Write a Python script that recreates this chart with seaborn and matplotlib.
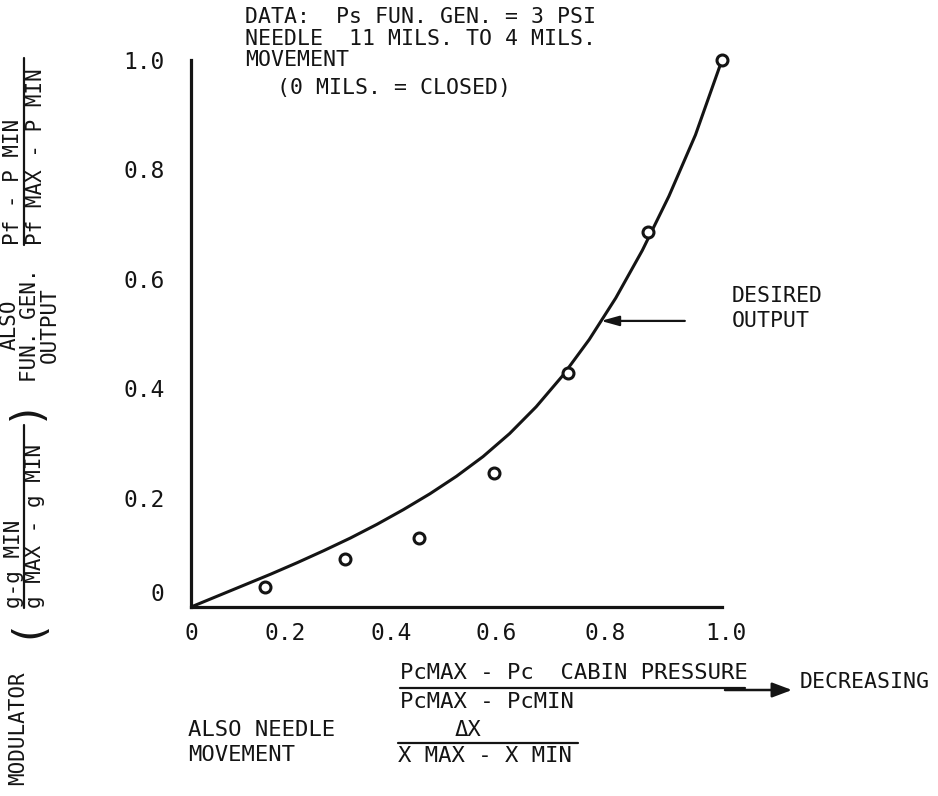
import matplotlib
matplotlib.use("Agg")
import matplotlib.pyplot as plt
from matplotlib.lines import Line2D
from matplotlib.patches import FancyArrowPatch
from matplotlib.transforms import ScaledTranslation
import seaborn as sns
import pandas as pd

# Measured modulator output against normalised needle movement
needle_frac = [0.14, 0.29, 0.43, 0.57, 0.71, 0.86, 1.0]
measured_out = [0.037, 0.088, 0.126, 0.245, 0.428, 0.686, 1.0]

# Desired function-generator output curve
desired_x = [0.00, 0.05, 0.10, 0.15, 0.20, 0.25, 0.30, 0.35, 0.40, 0.45, 0.50,
             0.55, 0.60, 0.65, 0.70, 0.75, 0.80, 0.85, 0.90, 0.95, 1.00]
desired_y = [0.000, 0.020, 0.040, 0.060, 0.081, 0.103, 0.126, 0.151, 0.178, 0.207, 0.239,
             0.275, 0.317, 0.366, 0.423, 0.489, 0.565, 0.652, 0.751, 0.863, 1.000]

tick_vals = [0, 0.2, 0.4, 0.6, 0.8, 1.0]
tick_text = ["0", "0.2", "0.4", "0.6", "0.8", "1.0"]

W, H = 938, 796
sns.set_theme(style="white")
FONT = ["DejaVu Sans Mono", "DejaVu Sans"]
plt.rcParams["font.family"] = FONT
INK = "#141414"

fig = plt.figure(figsize=(W / 100, H / 100), dpi=100)
fig.patch.set_facecolor("white")
ax = fig.add_axes([191 / W, 1 - 607 / H, (722 - 191) / W, (607 - 60) / H])
ax.set_facecolor("white")

curve = pd.DataFrame({"x": desired_x, "y": desired_y})
pts = pd.DataFrame({"x": needle_frac, "y": measured_out})
sns.lineplot(data=curve, x="x", y="y", ax=ax, color=INK, linewidth=2.2,
             sort=False, estimator=None)
sns.scatterplot(data=pts, x="x", y="y", ax=ax, marker="o", s=62,
                facecolor="white", edgecolor=INK, linewidth=2.2, zorder=5,
                clip_on=False)

ax.set_xlim(0, 1)
ax.set_ylim(0, 1)
ax.set_xlabel("")
ax.set_ylabel("")
for side in ("top", "right"):
    ax.spines[side].set_visible(False)
for side in ("left", "bottom"):
    ax.spines[side].set_linewidth(2.3)
    ax.spines[side].set_color(INK)

ax.set_xticks(tick_vals)
ax.set_yticks(tick_vals)
ax.set_xticklabels(tick_text, fontsize=16.5, color=INK)
ax.set_yticklabels(tick_text, fontsize=16.5, color=INK)
ax.tick_params(axis="both", direction="in", length=13, width=2.2, color=INK)
ax.tick_params(axis="x", pad=11)
ax.tick_params(axis="y", pad=19)

dpi = fig.dpi_scale_trans
x_shift = [0, -12, -12, -13, -11, 4]
for lab, dx in zip(ax.get_xticklabels(), x_shift):
    lab.set_transform(lab.get_transform() + ScaledTranslation(dx / 100, 0, dpi))
for i, lab in enumerate(ax.get_yticklabels()):
    dy = 15 if i == 0 else 0
    lab.set_transform(lab.get_transform() + ScaledTranslation(0, dy / 100, dpi))


def fx(px):
    return px / W


def fy(py):
    return 1 - py / H


def put(px, py, s, size=16, ha="left", va="center", rot=0):
    fig.text(fx(px), fy(py), s, fontsize=size, ha=ha, va=va, rotation=rot,
             color=INK, family=FONT)


def rule(x0, y0, x1, y1, lw=1.6):
    fig.add_artist(Line2D([fx(x0), fx(x1)], [fy(y0), fy(y1)],
                          transform=fig.transFigure, color=INK, linewidth=lw))


# Test conditions note
put(245, 17, "DATA:  Ps FUN. GEN. = 3 PSI", size=15.5)
put(245, 39, "NEEDLE  11 MILS. TO 4 MILS.", size=15.5)
put(245, 60, "MOVEMENT", size=15.5)
put(277, 88, "(0 MILS. = CLOSED)", size=15.5)

# Desired output callout
put(732, 296, "DESIRED", size=15.5)
put(732, 321, "OUTPUT", size=15.5)
ax.annotate("", xy=(0.772, 0.523), xytext=(0.93, 0.523),
            xycoords="data", textcoords="data",
            arrowprops=dict(arrowstyle="-|>,head_length=0.9,head_width=0.25",
                            color=INK, linewidth=1.6, shrinkA=0, shrinkB=0))

# Abscissa description
put(400, 673, "PcMAX - Pc  CABIN PRESSURE", size=16)
rule(400, 688, 745, 688)
put(400, 702, "PcMAX - PcMIN", size=16)
fig.add_artist(FancyArrowPatch(
    (fx(725), fy(690)), (fx(792), fy(690)), transform=fig.transFigure,
    arrowstyle="-|>,head_length=12,head_width=4.5", color=INK, linewidth=1.8,
    mutation_scale=1, shrinkA=0, shrinkB=0))
put(800, 682, "DECREASING", size=15.5)

put(188, 730, "ALSO NEEDLE", size=16)
put(188, 755, "MOVEMENT", size=16)
put(468, 730, "ΔX", ha="center", size=16)
rule(398, 743, 578, 743)
put(398, 756, "X MAX - X MIN", size=16)

# Ordinate description (rotated)
put(13, 245, "Pf - P MIN", rot=90, ha="center", va="bottom", size=15)
rule(24, 58, 24, 245)
put(36, 245, "Pf MAX - P MIN", rot=90, ha="center", va="bottom", size=15)

put(10, 325, "ALSO", rot=90, ha="center", size=15)
put(30, 325, "FUN. GEN.", rot=90, ha="center", size=15)
put(50, 325, "OUTPUT", rot=90, ha="center", size=15)

put(14, 608, "g-g MIN", rot=90, ha="center", va="bottom", size=15)
rule(24, 425, 24, 608)
put(35, 608, "g MAX - g MIN", rot=90, ha="center", va="bottom", size=15)
put(24, 625, "(", size=30, rot=90, ha="center")
put(24, 408, ")", size=30, rot=90, ha="center")

put(18, 728, "MODULATOR", rot=90, ha="center", size=15)

fig.savefig("out.png", dpi=100, facecolor="white")
